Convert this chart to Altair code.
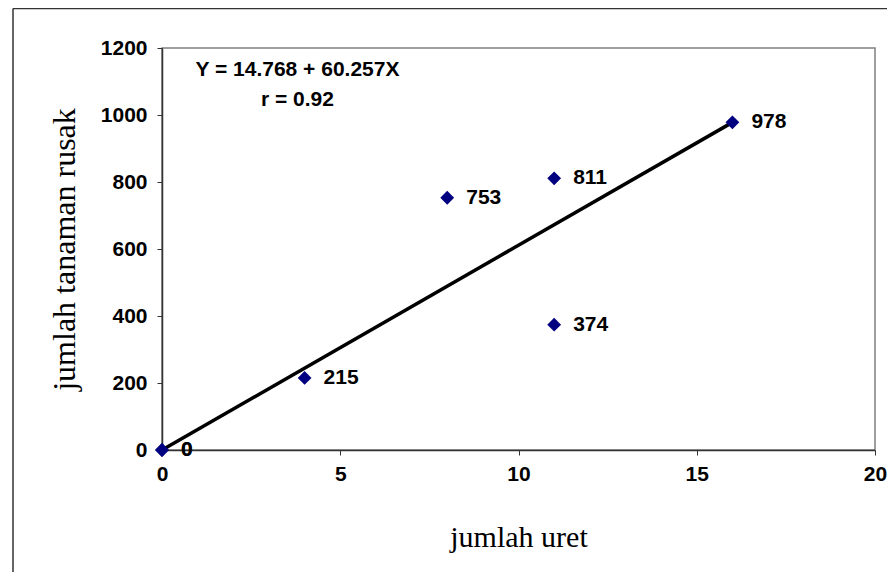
import altair as alt
import pandas as pd

# ---- data ----
x_vals = [0, 0, 4, 8, 11, 11, 16]
y_vals = [0, 0, 215, 753, 811, 374, 978]
point_labels = ["0", "0", "215", "753", "811", "374", "978"]

line_x = [0, 16]
line_y = [0, 978]

eq_text = ["Y = 14.768 + 60.257X", "r = 0.92"]
eq_x = [3.8, 3.8]
eq_y = [1134, 1045]

x_ticks = [0, 5, 10, 15, 20]
y_ticks = [0, 200, 400, 600, 800, 1000, 1200]

pts = pd.DataFrame({"x": x_vals, "y": y_vals, "label": point_labels})
line_df = pd.DataFrame({"x": line_x, "y": line_y})
eq_df = pd.DataFrame({"x": eq_x, "y": eq_y, "t": eq_text})

xs = alt.Scale(domain=[0, 20], nice=False, zero=False)
ys = alt.Scale(domain=[0, 1200], nice=False, zero=False)

x_axis = alt.Axis(
    values=x_ticks, title="jumlah uret", grid=False, format="d", labelFlush=False,
    domainColor="#333333", domainWidth=1.5, tickColor="#333333", tickSize=5, tickWidth=1,
    labelFont="Liberation Sans", labelFontWeight="bold", labelFontSize=21, labelColor="black",
    labelPadding=8,
    titleFont="Liberation Serif", titleFontSize=30, titleFontWeight="normal", titleColor="black",
    titleY=87, titleBaseline="middle",
)
y_axis = alt.Axis(
    values=y_ticks, title="jumlah tanaman rusak", grid=False, format="d", labelFlush=False,
    domainColor="#333333", domainWidth=1.5, tickColor="#333333", tickSize=5, tickWidth=1,
    labelFont="Liberation Sans", labelFontWeight="bold", labelFontSize=21, labelColor="black",
    labelPadding=10,
    titleFont="Liberation Serif", titleFontSize=32, titleFontWeight="normal", titleColor="black",
    titleX=-98, titleY=201, titleAngle=270, titleAlign="center", titleBaseline="middle",
)

line = alt.Chart(line_df).mark_line(color="black", strokeWidth=3.5).encode(
    x=alt.X("x:Q", scale=xs, axis=x_axis),
    y=alt.Y("y:Q", scale=ys, axis=y_axis),
)

points = alt.Chart(pts).mark_point(
    shape="diamond", filled=True, color="#000080", size=190, opacity=1
).encode(x=alt.X("x:Q", scale=xs), y=alt.Y("y:Q", scale=ys))

labels = alt.Chart(pts).mark_text(
    align="left", baseline="middle", dx=19, font="Liberation Sans",
    fontWeight="bold", fontSize=21, color="black"
).encode(x=alt.X("x:Q", scale=xs), y=alt.Y("y:Q", scale=ys), text="label:N")

eq = alt.Chart(eq_df).mark_text(
    align="center", baseline="middle", font="Liberation Sans",
    fontWeight="bold", fontSize=21, color="black"
).encode(x=alt.X("x:Q", scale=xs), y=alt.Y("y:Q", scale=ys), text="t:N")

frame_df = pd.DataFrame({"a": [0]})
frame_top = alt.Chart(frame_df).mark_rule(color="#333333", strokeWidth=1.5).encode(
    x=alt.value(-149), x2=alt.value(740), y=alt.value(-39.5)
)
frame_left = alt.Chart(frame_df).mark_rule(color="#333333", strokeWidth=1.5).encode(
    x=alt.value(-149), y=alt.value(-39.5), y2=alt.value(530)
)

chart = alt.layer(frame_top, frame_left, line, points, labels, eq).properties(
    width=713, height=402,
    padding={"left": 154, "top": 40, "right": 12, "bottom": 122},
    autosize=alt.AutoSizeParams(type="none"),
    background="white",
).configure_view(stroke="#808080", strokeWidth=1.5)

chart.save("out.html", embed_options={"renderer": "svg", "actions": False})
